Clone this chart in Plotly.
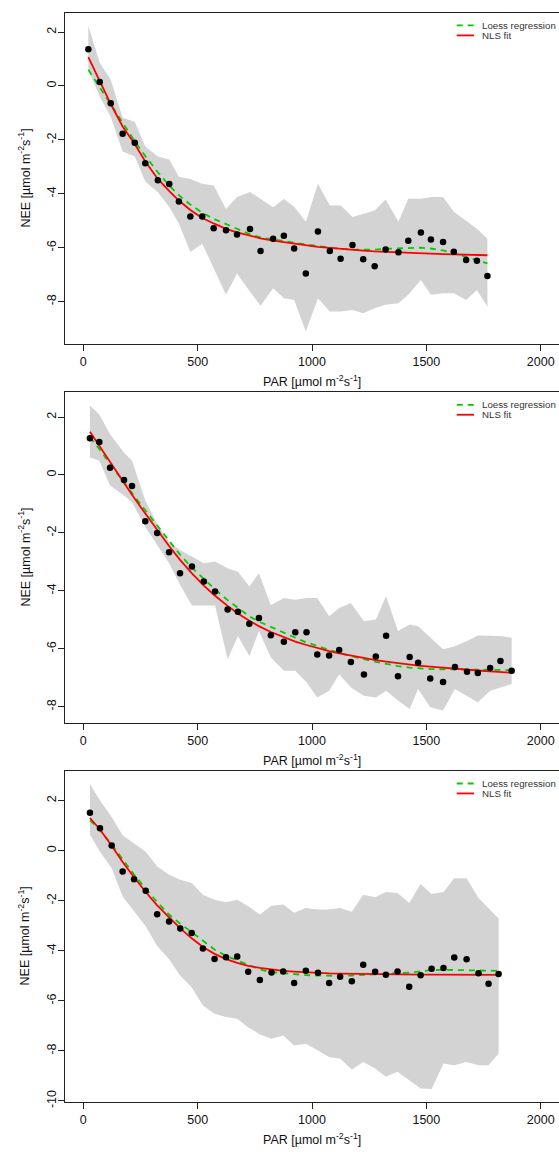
import plotly.graph_objects as go

# ---------------- data ----------------
# Panel 1
par1 = [22, 72, 120, 172, 225, 271, 326, 376, 418, 468, 520, 570, 624, 672, 729, 775, 830, 877,
        922, 973, 1026, 1078, 1125, 1177, 1224, 1274, 1322, 1378, 1421, 1476, 1520, 1573, 1620,
        1674, 1721, 1767]
nee1 = [1.36, 0.15, -0.64, -1.77, -2.11, -2.87, -3.50, -3.64, -4.29, -4.84, -4.84, -5.28, -5.35,
        -5.51, -5.31, -6.12, -5.67, -5.56, -6.03, -6.96, -5.40, -6.12, -6.41, -5.90, -6.43, -6.69,
        -6.07, -6.17, -5.74, -5.44, -5.70, -5.79, -6.15, -6.46, -6.48, -7.05]
upper1 = [2.23, 0.86, 0.23, -1.18, -1.33, -2.25, -2.62, -2.73, -3.37, -3.45, -3.63, -3.69, -4.56,
          -4.12, -3.93, -4.18, -4.50, -4.19, -4.48, -5.04, -3.63, -4.43, -4.43, -4.86, -4.74, -4.62,
          -4.21, -5.04, -4.18, -4.18, -4.12, -4.12, -4.67, -4.99, -5.30, -5.67]
lower1 = [0.60, -0.40, -1.14, -2.43, -2.62, -3.54, -3.94, -4.49, -5.10, -6.16, -5.85, -6.78, -7.75,
          -6.96, -7.63, -8.15, -7.50, -7.88, -7.94, -9.11, -7.88, -8.37, -8.37, -8.31, -8.43, -8.25,
          -8.12, -8.06, -7.75, -7.20, -7.75, -7.69, -7.69, -7.94, -7.57, -8.19]
loess1 = [0.60, -0.05, -0.72, -1.40, -2.05, -2.60, -3.20, -3.70, -4.05, -4.40, -4.70, -4.93, -5.13,
          -5.30, -5.50, -5.62, -5.70, -5.76, -5.82, -5.88, -5.94, -6.00, -6.04, -6.07, -6.08, -6.07,
          -6.04, -6.02, -6.00, -6.00, -6.03, -6.10, -6.20, -6.35, -6.47, -6.58]
nls1 = [1.07, 0.15, -0.67, -1.50, -2.15, -2.80, -3.45, -3.90, -4.25, -4.60, -4.90, -5.10, -5.30,
        -5.43, -5.56, -5.65, -5.74, -5.80, -5.86, -5.92, -5.97, -6.01, -6.05, -6.08, -6.11, -6.14,
        -6.16, -6.18, -6.20, -6.21, -6.22, -6.24, -6.25, -6.26, -6.27, -6.28]

# Panel 2
par2 = [29, 70, 117, 178, 213, 271, 323, 375, 423, 475, 527, 576, 631, 676, 726, 768, 820, 877,
        927, 976, 1023, 1075, 1119, 1170, 1227, 1279, 1324, 1376, 1427, 1464, 1517, 1573, 1625,
        1678, 1725, 1779, 1824, 1873]
nee2 = [1.27, 1.14, 0.25, -0.17, -0.38, -1.60, -2.00, -2.67, -3.39, -3.16, -3.68, -4.02, -4.64,
        -4.72, -5.14, -4.94, -5.53, -5.76, -5.43, -5.43, -6.20, -6.23, -6.04, -6.46, -6.89, -6.27,
        -5.55, -6.95, -6.28, -6.48, -7.03, -7.15, -6.63, -6.79, -6.84, -6.66, -6.42, -6.76]
upper2 = [2.40, 2.09, 1.41, 0.78, 0.49, -0.88, -1.68, -2.31, -2.59, -2.82, -3.05, -2.99, -3.22,
          -3.34, -3.85, -3.39, -4.50, -4.25, -4.31, -4.25, -4.25, -4.88, -4.59, -4.42, -5.05, -4.99,
          -4.19, -5.39, -5.16, -5.22, -5.62, -6.02, -5.91, -5.73, -5.54, -5.54, -5.56, -5.62]
lower2 = [0.61, 0.49, -0.36, -0.71, -0.94, -1.79, -2.42, -3.05, -3.79, -4.51, -4.51, -4.51, -6.36,
          -5.56, -6.25, -5.39, -6.30, -6.76, -6.76, -7.16, -7.68, -7.45, -6.88, -7.34, -7.62, -7.68,
          -7.45, -7.79, -8.08, -7.39, -8.02, -8.13, -7.39, -7.62, -7.85, -7.45, -7.34, -7.22]
loess2 = [1.30, 0.90, 0.38, -0.28, -0.62, -1.22, -1.75, -2.28, -2.75, -3.20, -3.60, -3.95, -4.32,
          -4.58, -4.88, -5.06, -5.25, -5.45, -5.62, -5.78, -5.91, -6.04, -6.14, -6.25, -6.36, -6.45,
          -6.53, -6.60, -6.65, -6.68, -6.70, -6.71, -6.71, -6.72, -6.72, -6.73, -6.73, -6.74]
nls2 = [1.49, 1.00, 0.44, -0.28, -0.68, -1.33, -1.90, -2.45, -2.93, -3.40, -3.82, -4.17, -4.52,
        -4.78, -5.03, -5.22, -5.42, -5.60, -5.75, -5.87, -5.98, -6.08, -6.16, -6.24, -6.32, -6.39,
        -6.44, -6.50, -6.55, -6.58, -6.62, -6.66, -6.69, -6.72, -6.75, -6.78, -6.80, -6.83]

# Panel 3
par3 = [29, 73, 124, 172, 222, 273, 323, 375, 424, 474, 523, 574, 624, 673, 721, 772, 823, 874,
        922, 973, 1026, 1075, 1123, 1174, 1224, 1276, 1323, 1374, 1425, 1475, 1523, 1575, 1622,
        1676, 1728, 1772, 1816]
nee3 = [1.52, 0.90, 0.21, -0.83, -1.14, -1.60, -2.54, -2.83, -3.11, -3.29, -3.91, -4.33, -4.26,
        -4.23, -4.84, -5.17, -4.87, -4.83, -5.29, -4.80, -4.88, -5.29, -5.04, -5.22, -4.56, -4.84,
        -4.96, -4.83, -5.44, -4.98, -4.72, -4.69, -4.27, -4.34, -4.90, -5.32, -4.93]
upper3 = [2.67, 2.01, 1.35, 0.62, 0.29, -0.04, -0.63, -0.96, -1.16, -1.29, -1.76, -1.96, -2.06,
          -1.96, -2.22, -2.55, -2.20, -2.15, -2.48, -2.29, -2.35, -2.35, -2.29, -2.44, -1.76, -1.86,
          -1.65, -1.69, -2.09, -1.33, -1.73, -1.65, -1.10, -1.10, -1.89, -2.29, -2.71]
lower3 = [0.65, -0.04, -0.70, -1.83, -2.42, -3.02, -3.81, -4.34, -5.00, -5.46, -6.19, -6.52, -6.65,
          -6.72, -7.05, -7.34, -7.51, -7.38, -7.78, -7.71, -7.98, -8.24, -8.31, -8.74, -8.44, -8.70,
          -9.03, -8.83, -9.17, -9.50, -9.52, -8.50, -8.57, -8.44, -8.57, -8.57, -8.10]
loess3 = [1.22, 0.82, 0.25, -0.35, -0.95, -1.52, -2.05, -2.55, -2.92, -3.25, -3.60, -3.95, -4.20,
          -4.38, -4.58, -4.75, -4.85, -4.90, -4.95, -4.97, -4.99, -5.00, -5.00, -4.99, -4.97, -4.95,
          -4.93, -4.90, -4.87, -4.82, -4.77, -4.76, -4.77, -4.78, -4.79, -4.80, -4.80]
nls3 = [1.31, 0.85, 0.20, -0.45, -1.06, -1.65, -2.18, -2.67, -3.10, -3.50, -3.85, -4.12, -4.33,
        -4.48, -4.60, -4.68, -4.75, -4.80, -4.83, -4.86, -4.88, -4.90, -4.91, -4.92, -4.93, -4.93,
        -4.94, -4.94, -4.95, -4.95, -4.95, -4.95, -4.96, -4.96, -4.96, -4.96, -4.96]

x_ticks = [0, 500, 1000, 1500, 2000]
x_ticktext = ["0", "500", "1000", "1500", "2000"]
y_ticks_a = [-8, -6, -4, -2, 0, 2]
y_ticktext_a = ["-8", "-6", "-4", "-2", "0", "2"]
y_ticks_b = [-10, -8, -6, -4, -2, 0, 2]
y_ticktext_b = ["-10", "-8", "-6", "-4", "-2", "0", "2"]

legend_labels = ["Loess regression", "NLS fit"]
x_title = "PAR [µmol m<sup>-2</sup>s<sup>-1</sup>]"
y_title = "NEE [µmol m<sup>-2</sup>s<sup>-1</sup>]"

# ---------------- layout geometry ----------------
W, H = 559, 1152
LEFT = 65
PW = W - LEFT
FONT = "Liberation Sans, Arial, Helvetica, sans-serif"
GREY = "#D3D3D3"
GREEN = "#00CD00"
RED = "#FF0000"

panels = [
    dict(par=par1, nee=nee1, up=upper1, lo=lower1, loess=loess1, nls=nls1,
         top=13, bottom=346, yr=[-9.58, 2.71], yt=y_ticks_a, ytt=y_ticktext_a),
    dict(par=par2, nee=nee2, up=upper2, lo=lower2, loess=loess2, nls=nls2,
         top=394.3, bottom=726.7, yr=[-8.56, 2.857], yt=y_ticks_a, ytt=y_ticktext_a),
    dict(par=par3, nee=nee3, up=upper3, lo=lower3, loess=loess3, nls=nls3,
         top=775, bottom=1107.7, yr=[-10.04, 3.19], yt=y_ticks_b, ytt=y_ticktext_b),
]


def px_x(px):
    return (px - LEFT) / PW


def px_y(py):
    return 1 - py / H


fig = go.Figure()
annotations = []
shapes = []

for i, p in enumerate(panels):
    sfx = "" if i == 0 else str(i + 1)
    xa, ya = "x" + sfx, "y" + sfx

    # shaded spread band
    fig.add_trace(go.Scatter(
        x=p["par"] + p["par"][::-1], y=p["up"] + p["lo"][::-1],
        xaxis=xa, yaxis=ya, mode="lines", fill="toself", fillcolor=GREY,
        line=dict(width=0, color=GREY), hoverinfo="skip", showlegend=False))
    # loess curve
    fig.add_trace(go.Scatter(
        x=p["par"], y=p["loess"], xaxis=xa, yaxis=ya, mode="lines",
        line=dict(color=GREEN, width=1.8, dash="6px,5px"), showlegend=False))
    # NLS fit
    fig.add_trace(go.Scatter(
        x=p["par"], y=p["nls"], xaxis=xa, yaxis=ya, mode="lines",
        line=dict(color=RED, width=1.8), showlegend=False))
    # binned observations
    fig.add_trace(go.Scatter(
        x=p["par"], y=p["nee"], xaxis=xa, yaxis=ya, mode="markers",
        marker=dict(color="black", size=6.5), showlegend=False))

    dom = [px_y(p["bottom"]), px_y(p["top"])]
    axis_common = dict(showgrid=False, zeroline=False, showline=True, linecolor="#222",
                       linewidth=1, ticks="outside", ticklen=6, tickwidth=1, tickcolor="#222",
                       tickfont=dict(family=FONT, size=12.5, color="#111"))
    fig.update_layout(**{
        "xaxis" + sfx: dict(domain=[0, 1], range=[-80, 2080], anchor=ya, tickmode="array",
                            tickvals=x_ticks, ticktext=x_ticktext, mirror=True, **axis_common),
        "yaxis" + sfx: dict(domain=dom, range=p["yr"], anchor=xa, tickmode="array",
                            tickvals=p["yt"], ticktext=p["ytt"], tickangle=-90,
                            ticklabelstandoff=-3, **axis_common),
    })

    # axis titles
    annotations.append(dict(
        text=x_title, xref="paper", yref="paper", x=0.5, y=px_y(p["bottom"] + 37),
        xanchor="center", yanchor="middle", showarrow=False,
        font=dict(family=FONT, size=12.5, color="#111")))
    annotations.append(dict(
        text=y_title, xref="paper", yref="paper", x=px_x(24),
        y=px_y((p["top"] + p["bottom"]) / 2), xanchor="center", yanchor="middle",
        textangle=-90, showarrow=False, font=dict(family=FONT, size=12.5, color="#111")))

    # legend
    for k, (lab, col, dsh) in enumerate([(legend_labels[0], GREEN, "6px,5px"),
                                         (legend_labels[1], RED, "solid")]):
        yy = px_y(p["top"] + 12.6 + 10 * k)
        shapes.append(dict(type="line", xref="paper", yref="paper",
                           x0=px_x(456.7), x1=px_x(474), y0=yy, y1=yy,
                           line=dict(color=col, width=1.8, dash=dsh)))
        annotations.append(dict(
            text=lab, xref="paper", yref="paper", x=px_x(480), y=yy,
            xanchor="left", yanchor="middle", showarrow=False,
            font=dict(family=FONT, size=9.7, color="#333")))

fig.update_layout(
    width=W, height=H, margin=dict(l=LEFT, r=0, t=0, b=0),
    paper_bgcolor="white", plot_bgcolor="white", showlegend=False,
    annotations=annotations, shapes=shapes,
)

fig.write_html("out.html")
